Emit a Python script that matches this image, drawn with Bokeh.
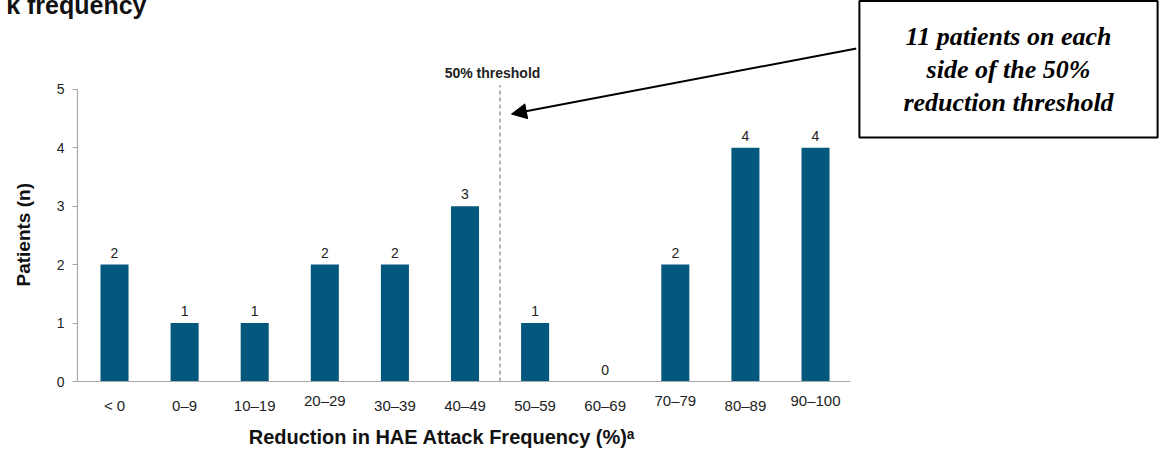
from bokeh.plotting import figure
from bokeh.models import (Range1d, FixedTicker, Label, ColumnDataSource,
                          Arrow, NormalHead)
from bokeh.core.properties import value
from bokeh.embed import file_html
from bokeh.resources import INLINE

# ---- data ----
categories = ["< 0", "0–9", "10–19", "20–29", "30–39", "40–49",
              "50–59", "60–69", "70–79", "80–89", "90–100"]
patients = [2, 1, 1, 2, 2, 3, 1, 0, 2, 4, 4]
raised_labels = ["20–29", "70–79", "90–100"]
y_ticks = [0, 1, 2, 3, 4, 5]
threshold_x = 5.5
threshold_top = 5.07

BAR = "#04587d"
SANS = "Liberation Sans"
SERIF = "Liberation Serif"
TXT = "#222222"
NB = "\u00a0"

# frame geometry (pixels) and pixel -> data helpers for annotations
FL, FR, FT, FB = 77, 856, 40, 383
X0 = -0.528
X1 = X0 + (FR - FL) / 70.1
Y0 = 0.0
Y1 = (FB - FT) / 58.8


def px2x(px):
    return X0 + (px - FL) / (FR - FL) * (X1 - X0)


def px2y(py):
    return Y0 + (FB - py) / (FB - FT) * (Y1 - Y0)


idx = list(range(len(categories)))
src = ColumnDataSource(dict(x=idx, top=patients, lab=[str(v) for v in patients]))

p = figure(width=1162, height=450, output_backend="svg", toolbar_location=None,
           x_range=Range1d(X0, X1), y_range=Range1d(Y0, Y1),
           min_border_left=FL, min_border_right=1162 - FR,
           min_border_top=FT, min_border_bottom=450 - FB)
p.outline_line_color = None
p.xgrid.grid_line_color = None
p.ygrid.grid_line_color = None
p.background_fill_color = "white"
p.border_fill_color = "white"

p.vbar(x="x", top="top", width=0.4, source=src, fill_color=BAR, line_color=None)
p.text(x="x", y="top", text="lab", source=src, text_align="center",
       text_baseline="alphabetic", y_offset=-12, text_font_size="14px",
       text_color=TXT, text_font=value(SANS))

# threshold line
p.segment(x0=[threshold_x], y0=[0], x1=[threshold_x], y1=[threshold_top],
          line_color="#9a9a9a", line_width=1.5, line_dash="4 3")
p.add_layout(Label(x=px2x(492), y=px2y(73), text="50% threshold",
                   text_align="center", text_baseline="middle",
                   text_font=SANS, text_font_style="bold", text_font_size="14px",
                   text_color=TXT))

# x axis (staggered tick labels via a leading blank line)
xa = p.xaxis[0]
xa.ticker = FixedTicker(ticks=idx)
xa.bounds = (X0, 10.5)
xa.major_label_overrides = {i: (c if c in raised_labels else NB + "\n" + c)
                            for i, c in zip(idx, categories)}
xa.major_tick_out = 0
xa.major_tick_in = 0
xa.minor_tick_out = 0
xa.minor_tick_in = 0
xa.axis_line_color = "#a8a8a8"
xa.axis_line_width = 1.2
xa.major_label_standoff = 10
xa.major_label_text_font = SANS
xa.major_label_text_font_size = "15px"
xa.major_label_text_line_height = 0.3
xa.major_label_text_color = TXT
xa.axis_label = "Reduction in HAE Attack Frequency (%)ᵃ" + NB * 9
xa.axis_label_text_font = SANS
xa.axis_label_text_font_style = "bold"
xa.axis_label_text_font_size = "20px"
xa.axis_label_text_color = "#111111"
xa.axis_label_standoff = 9

# y axis
ya = p.yaxis[0]
ya.ticker = FixedTicker(ticks=y_ticks)
ya.bounds = (0, 5)
ya.major_tick_out = 5
ya.major_tick_in = 0
ya.minor_tick_out = 0
ya.minor_tick_in = 0
ya.axis_line_color = "#a8a8a8"
ya.major_tick_line_color = "#a8a8a8"
ya.axis_line_width = 1.2
ya.major_label_standoff = 8
ya.major_label_text_font = SANS
ya.major_label_text_font_size = "14px"
ya.major_label_text_color = TXT
ya.axis_label = "Patients (n)" + NB * 9
ya.axis_label_text_font = SANS
ya.axis_label_text_font_style = "bold"
ya.axis_label_text_font_size = "19px"
ya.axis_label_text_color = "#111111"
ya.axis_label_standoff = 20

# cropped title fragment (in the top panel so that it is not clipped)
p.add_layout(Label(x=px2x(146), y=px2y(4), text="k frequency", text_align="right",
                   text_baseline="alphabetic", text_font=SANS, text_font_style="bold",
                   text_font_size="25px", text_color="#111111"), "above")

# callout box (in the right panel so that it is not clipped)
p.add_layout(Label(x=px2x(1008), y=px2y(69),
                   text="11 patients on each\nside of the 50%\nreduction threshold",
                   text_align="center", text_baseline="middle", text_font=SERIF,
                   text_font_style="bold italic", text_font_size="26px",
                   text_line_height=1.13, text_color="black",
                   border_line_color="black", border_line_width=2,
                   background_fill_color="white",
                   padding=dict(left=44, right=44, top=21, bottom=21)), "right")

# arrow
p.add_layout(Arrow(end=NormalHead(size=15, fill_color="black", line_color="black"),
                   x_start=px2x(856), y_start=px2y(48), x_end=px2x(511), y_end=px2y(114),
                   line_color="black", line_width=2))

open("out.html", "w").write(file_html(p, INLINE))
